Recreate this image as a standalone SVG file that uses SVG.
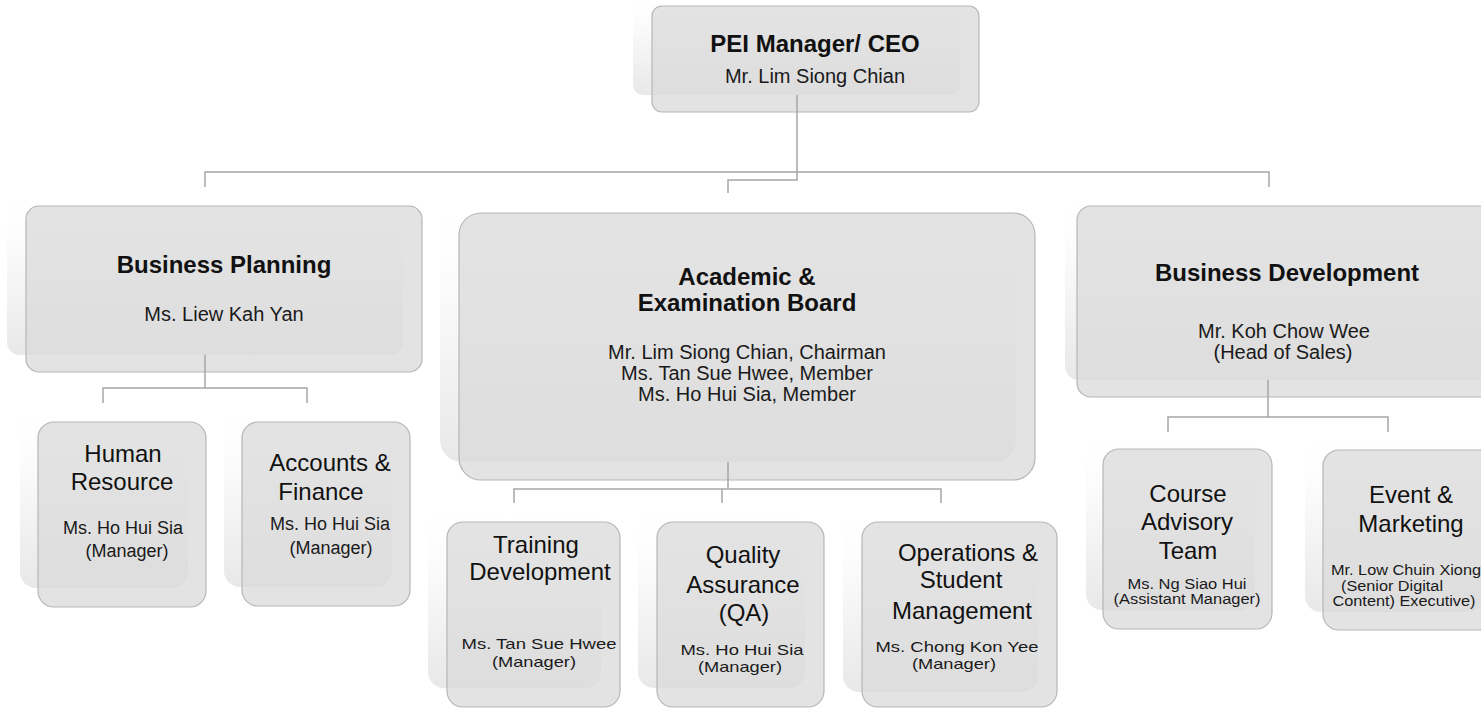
<svg xmlns="http://www.w3.org/2000/svg" width="1481" height="708" viewBox="0 0 1481 708">
<defs>
<linearGradient id="sh" x1="0" y1="0" x2="0" y2="1">
<stop offset="0" stop-color="#ffffff" stop-opacity="0"/>
<stop offset="0.45" stop-color="#f8f8f8"/>
<stop offset="1" stop-color="#e8e8e8"/>
</linearGradient>
<style>
.box{fill:#dadada;fill-opacity:0.75;stroke:#b6b6b6;stroke-width:1.2}
.sh{fill:url(#sh)}
.t{font-family:"Liberation Sans",Arial,sans-serif;text-anchor:middle;fill:#111}
.b{font-weight:bold;font-size:24px}
.n{font-size:20px;fill:#1a1a1a}
.s{font-size:24px}
.m{font-size:18px;fill:#1a1a1a}
.q{font-size:15px;fill:#1a1a1a}
.r{font-size:14px;fill:#1a1a1a}
.c{fill:none;stroke:#a6a6a6;stroke-width:1.5}
</style>
</defs>
<rect width="1481" height="708" fill="#ffffff"/>

<g id="ceo">
<rect class="sh" x="633" y="-11" width="327" height="106" rx="10"/>
<rect class="box" x="652" y="6" width="327" height="106" rx="10"/>
<text class="t b" x="815" y="52">PEI Manager/ CEO</text>
<text class="t n" x="815" y="83">Mr. Lim Siong Chian</text>
</g>

<g id="business-planning">
<rect class="sh" x="7" y="189" width="396" height="166" rx="13"/>
<rect class="box" x="26" y="206" width="396" height="166" rx="13"/>
<text class="t b" x="224" y="273">Business Planning</text>
<text class="t n" x="224" y="321">Ms. Liew Kah Yan</text>
</g>

<g id="academic">
<rect class="sh" x="440" y="195" width="576" height="267" rx="22"/>
<rect class="box" x="459" y="213" width="576" height="267" rx="22"/>
<text class="t b" x="747" y="285">Academic &amp;</text>
<text class="t b" x="747" y="311">Examination Board</text>
<text class="t n" x="747" y="359">Mr. Lim Siong Chian, Chairman</text>
<text class="t n" x="747" y="380">Ms. Tan Sue Hwee, Member</text>
<text class="t n" x="747" y="401">Ms. Ho Hui Sia, Member</text>
</g>

<g id="business-development">
<rect class="sh" x="1065" y="189" width="440" height="191" rx="14"/>
<rect class="box" x="1077" y="206" width="440" height="191" rx="14"/>
<text class="t b" x="1287" y="281">Business Development</text>
<text class="t n" x="1284" y="338">Mr. Koh Chow Wee</text>
<text class="t n" x="1283" y="359">(Head of Sales)</text>
</g>

<g id="human-resource">
<rect class="sh" x="20" y="403" width="168" height="185" rx="16"/>
<rect class="box" x="38" y="422" width="168" height="185" rx="16"/>
<text class="t s" x="123" y="462">Human</text>
<text class="t s" x="122" y="490">Resource</text>
<text class="t m" x="123" y="534">Ms. Ho Hui Sia</text>
<text class="t m" x="127" y="557">(Manager)</text>
</g>

<g id="accounts-finance">
<rect class="sh" x="224" y="403" width="168" height="184" rx="16"/>
<rect class="box" x="242" y="422" width="168" height="184" rx="16"/>
<text class="t s" x="330" y="471">Accounts &amp;</text>
<text class="t s" x="321" y="500">Finance</text>
<text class="t m" x="330" y="530">Ms. Ho Hui Sia</text>
<text class="t m" x="331" y="554">(Manager)</text>
</g>

<g id="training-development">
<rect class="sh" x="428" y="503" width="173" height="185" rx="16"/>
<rect class="box" x="447" y="522" width="173" height="185" rx="16"/>
<text class="t s" x="536" y="553">Training</text>
<text class="t s" x="540" y="580">Development</text>
<text class="t q" x="539" y="649" textLength="155" lengthAdjust="spacingAndGlyphs">Ms. Tan Sue Hwee</text>
<text class="t q" x="534" y="667" textLength="84" lengthAdjust="spacingAndGlyphs">(Manager)</text>
</g>

<g id="quality-assurance">
<rect class="sh" x="638" y="503" width="167" height="185" rx="16"/>
<rect class="box" x="657" y="522" width="167" height="185" rx="16"/>
<text class="t s" x="743" y="563">Quality</text>
<text class="t s" x="743" y="593">Assurance</text>
<text class="t s" x="744" y="621">(QA)</text>
<text class="t q" x="742" y="655" textLength="123" lengthAdjust="spacingAndGlyphs">Ms. Ho Hui Sia</text>
<text class="t q" x="740" y="672" textLength="84" lengthAdjust="spacingAndGlyphs">(Manager)</text>
</g>

<g id="operations-student-management">
<rect class="sh" x="843" y="505" width="195" height="187" rx="16"/>
<rect class="box" x="862" y="522" width="195" height="185" rx="16"/>
<text class="t s" x="968" y="561">Operations &amp;</text>
<text class="t s" x="961" y="588">Student</text>
<text class="t s" x="962" y="619">Management</text>
<text class="t q" x="957" y="652" textLength="163" lengthAdjust="spacingAndGlyphs">Ms. Chong Kon Yee</text>
<text class="t q" x="954" y="669" textLength="84" lengthAdjust="spacingAndGlyphs">(Manager)</text>
</g>

<g id="course-advisory-team">
<rect class="sh" x="1086" y="430" width="169" height="180" rx="16"/>
<rect class="box" x="1103" y="449" width="169" height="180" rx="16"/>
<text class="t s" x="1188" y="502">Course</text>
<text class="t s" x="1187" y="530">Advisory</text>
<text class="t s" x="1188" y="559">Team</text>
<text class="t r" x="1187" y="589" textLength="119" lengthAdjust="spacingAndGlyphs">Ms. Ng Siao Hui</text>
<text class="t r" x="1187" y="604" textLength="147" lengthAdjust="spacingAndGlyphs">(Assistant Manager)</text>
</g>

<g id="event-marketing">
<rect class="sh" x="1305" y="432" width="180" height="180" rx="16"/>
<rect class="box" x="1323" y="450" width="180" height="180" rx="16"/>
<text class="t s" x="1411" y="503">Event &amp;</text>
<text class="t s" x="1411" y="532">Marketing</text>
<text class="t r" x="1406" y="575" textLength="150" lengthAdjust="spacingAndGlyphs">Mr. Low Chuin Xiong</text>
<text class="t r" x="1392" y="591" textLength="102" lengthAdjust="spacingAndGlyphs">(Senior Digital</text>
<text class="t r" x="1404" y="606" textLength="143" lengthAdjust="spacingAndGlyphs">Content) Executive)</text>
</g>

<g id="connectors">
<path class="c" d="M797,95 V180 H728 V193"/>
<path class="c" d="M205,187 V172 H1269 V187"/>
<path class="c" d="M205,355 V388"/>
<path class="c" d="M103,403 V388 H307 V403"/>
<path class="c" d="M728,462 V489"/>
<path class="c" d="M514,503 V489 H941 V503"/>
<path class="c" d="M722,489 V503"/>
<path class="c" d="M1268,380 V417"/>
<path class="c" d="M1168,432 V417 H1388 V432"/>
</g>
</svg>
